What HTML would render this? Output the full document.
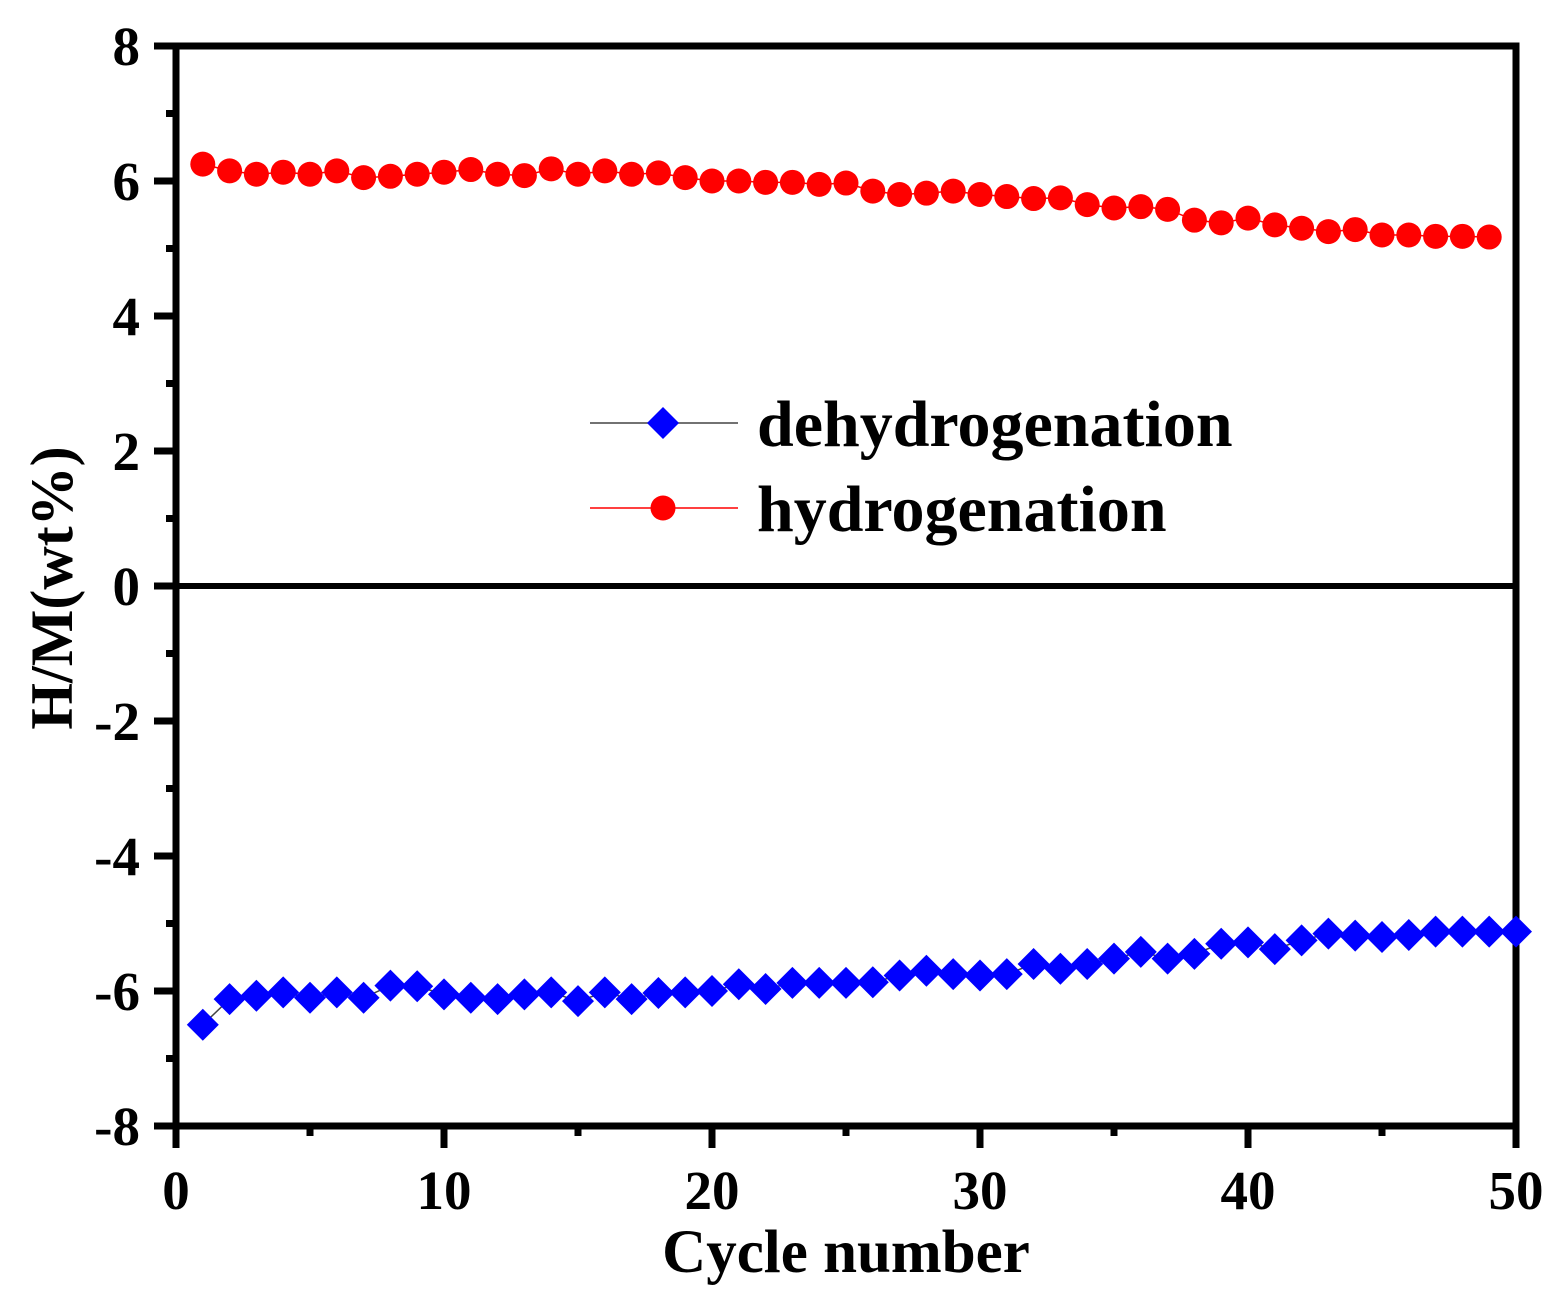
<!DOCTYPE html>
<html><head><meta charset="utf-8"><style>
body{margin:0;background:#fff;}
svg text{font-family:"Liberation Serif",serif;font-weight:bold;fill:#000;}
</style></head><body>
<svg id="chart" width="1568" height="1310" xmlns="http://www.w3.org/2000/svg"></svg>
<script>
const cyclesH=[1,2,3,4,5,6,7,8,9,10,11,12,13,14,15,16,17,18,19,20,21,22,23,24,25,26,27,28,29,30,31,32,33,34,35,36,37,38,39,40,41,42,43,44,45,46,47,48,49];
const hydrogenation=[6.25,6.15,6.1,6.13,6.1,6.15,6.05,6.07,6.1,6.13,6.17,6.1,6.08,6.18,6.1,6.15,6.1,6.12,6.05,6.0,6.0,5.98,5.98,5.95,5.97,5.85,5.8,5.82,5.85,5.8,5.77,5.74,5.75,5.65,5.6,5.62,5.58,5.42,5.38,5.45,5.35,5.3,5.25,5.28,5.2,5.2,5.18,5.18,5.17];
const cyclesD=[1,2,3,4,5,6,7,8,9,10,11,12,13,14,15,16,17,18,19,20,21,22,23,24,25,26,27,28,29,30,31,32,33,34,35,36,37,38,39,40,41,42,43,44,45,46,47,48,49,50];
const dehydrogenation=[-6.5,-6.12,-6.07,-6.02,-6.1,-6.02,-6.1,-5.92,-5.93,-6.05,-6.1,-6.12,-6.05,-6.02,-6.15,-6.02,-6.12,-6.03,-6.02,-6.0,-5.9,-5.97,-5.88,-5.88,-5.88,-5.87,-5.77,-5.7,-5.75,-5.77,-5.75,-5.6,-5.67,-5.6,-5.52,-5.42,-5.52,-5.45,-5.3,-5.28,-5.38,-5.25,-5.15,-5.18,-5.2,-5.17,-5.12,-5.12,-5.12,-5.12];
const xTicks=[0,10,20,30,40,50];
const yTicks=[-8,-6,-4,-2,0,2,4,6,8];

const svg=document.getElementById('chart');
const NS='http://www.w3.org/2000/svg';
const L=176,R=1516,T=46,B=1126;
const sx=v=>L+(v-0)/50*(R-L);
const sy=v=>B-(v+8)/16*(B-T);
function el(tag,attrs,parent){const e=document.createElementNS(NS,tag);for(const k in attrs)e.setAttribute(k,attrs[k]);(parent||svg).appendChild(e);return e;}

for(let v=-8;v<=8;v++){
  const major=v%2===0;
  const t=el('line',{x1:L-(major?22:10),x2:L,y1:sy(v),y2:sy(v),stroke:'#000','stroke-width':7});
  
  
}
for(let v=0;v<=50;v+=5){
  const major=v%10===0;
  const t=el('line',{x1:sx(v),x2:sx(v),y1:B,y2:B+(major?22:10),stroke:'#000','stroke-width':7});
  
  
}
yTicks.forEach(v=>{
  const t=el('text',{x:L-36,y:sy(v)+19,'text-anchor':'end','font-size':55});
  t.textContent=v;
  
  
});
xTicks.forEach(v=>{
  const t=el('text',{x:sx(v),y:1209,'text-anchor':'middle','font-size':55});
  t.textContent=v;
  
  
});
const fr=el('rect',{x:L,y:T,width:R-L,height:B-T,fill:'none',stroke:'#000','stroke-width':7});


const zl=el('line',{x1:L,x2:R,y1:sy(0),y2:sy(0),stroke:'#000','stroke-width':6});



const lh=el('polyline',{points:cyclesH.map((c,i)=>sx(c)+','+sy(hydrogenation[i])).join(' '),fill:'none',stroke:'#ff0000','stroke-width':1.5});


cyclesH.forEach((c,i)=>{
  const p=el('circle',{cx:sx(c),cy:sy(hydrogenation[i]),r:12.5,fill:'#ff0000'});
  
  
});
const ld=el('polyline',{points:cyclesD.map((c,i)=>sx(c)+','+sy(dehydrogenation[i])).join(' '),fill:'none',stroke:'#444','stroke-width':1.5});


function diamond(x,y,s){return `${x},${y-s} ${x+s},${y} ${x},${y+s} ${x-s},${y}`;}
cyclesD.forEach((c,i)=>{
  const p=el('polygon',{points:diamond(sx(c),sy(dehydrogenation[i]),16),fill:'#0000ff'});
  
  
});

const g=el('g',{});


el('line',{x1:590,x2:738,y1:423,y2:423,stroke:'#444','stroke-width':1.5},g);
el('polygon',{points:diamond(663,423,16),fill:'#0000ff'},g);
const t1=el('text',{x:757,y:446,'font-size':66},g);t1.textContent='dehydrogenation';


el('line',{x1:590,x2:738,y1:508,y2:508,stroke:'#ff0000','stroke-width':1.5},g);
el('circle',{cx:663,cy:508,r:12.5,fill:'#ff0000'},g);
const t2=el('text',{x:757,y:531,'font-size':66},g);t2.textContent='hydrogenation';



const xt=el('text',{x:846,y:1272,'text-anchor':'middle','font-size':61});
xt.textContent='Cycle number';


const yt=el('text',{x:0,y:0,'text-anchor':'middle','font-size':60,transform:'translate(72,588) rotate(-90)'});
yt.textContent='H/M(wt%)';


</script>
</body></html>
